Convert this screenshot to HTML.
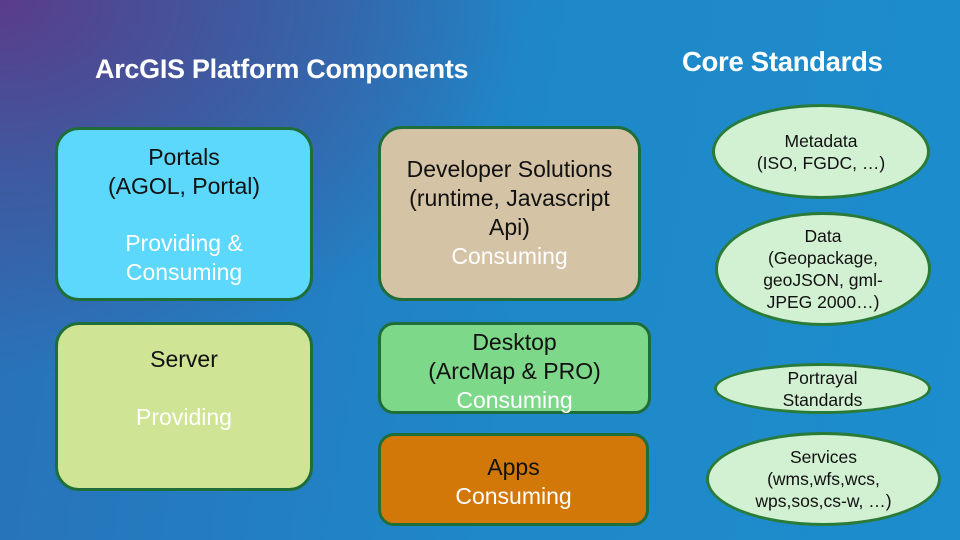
<!DOCTYPE html>
<html><head><style>
body{margin:0}
#c{position:relative;width:960px;height:540px;overflow:hidden;font-family:"Liberation Sans",Arial,sans-serif;
background:radial-gradient(ellipse 700px 500px at 0px 0px,#5a3c8a 0%,#3e5aa0 35%,rgba(30,136,200,0) 75%),linear-gradient(100deg,#2a70b8 0%,#1e88c8 55%,#1d8dcd 100%);}
.t{position:absolute;color:#fff;font-weight:bold;white-space:nowrap}
.b{position:absolute;box-sizing:border-box;border:3px solid #1f6e3a;border-radius:24px;text-align:center;font-size:23px;line-height:29px;color:#111;white-space:nowrap}
.w{color:#fff}
.e{position:absolute;box-sizing:border-box;border:3px solid #2a7a38;border-radius:50%;background:#d2f0d2;display:flex;align-items:center;justify-content:center;text-align:center;font-size:17.5px;line-height:22px;color:#111;white-space:nowrap}
</style></head><body><div id="c">
<div class="t" style="left:95px;top:54px;font-size:27px;letter-spacing:-0.3px">ArcGIS Platform Components</div>
<div class="t" style="left:682px;top:46px;font-size:27.5px;letter-spacing:-0.3px">Core Standards</div>

<div class="b" style="left:55px;top:127px;width:258px;height:174px;background:#5cd8fc;padding-top:13px">Portals<br>(AGOL, Portal)<div class="w" style="margin-top:28px">Providing &amp;<br>Consuming</div></div>
<div class="b" style="left:55px;top:322px;width:258px;height:169px;background:#cfe494;padding-top:20px">Server<div class="w" style="margin-top:29px">Providing</div></div>
<div class="b" style="left:378px;top:126px;width:263px;height:175px;background:#d5c3a6;padding-top:26px">Developer Solutions<br>(runtime, Javascript<br>Api)<div class="w">Consuming</div></div>
<div class="b" style="left:378px;top:322px;width:273px;height:92px;background:#7ed88a;border-radius:16px;padding-top:3px">Desktop<br>(ArcMap &amp; PRO)<div class="w">Consuming</div></div>
<div class="b" style="left:378px;top:433px;width:271px;height:93px;background:#d27808;border-radius:16px;padding-top:17px">Apps<div class="w">Consuming</div></div>

<div class="e" style="left:712px;top:104px;width:218px;height:95px">Metadata<br>(ISO, FGDC, …)</div>
<div class="e" style="left:715px;top:212px;width:216px;height:114px">Data<br>(Geopackage,<br>geoJSON, gml-<br>JPEG 2000…)</div>
<div class="e" style="left:714px;top:363px;width:217px;height:51px">Portrayal<br>Standards</div>
<div class="e" style="left:706px;top:432px;width:235px;height:94px">Services<br>(wms,wfs,wcs,<br>wps,sos,cs-w, …)</div>
</div></body></html>
